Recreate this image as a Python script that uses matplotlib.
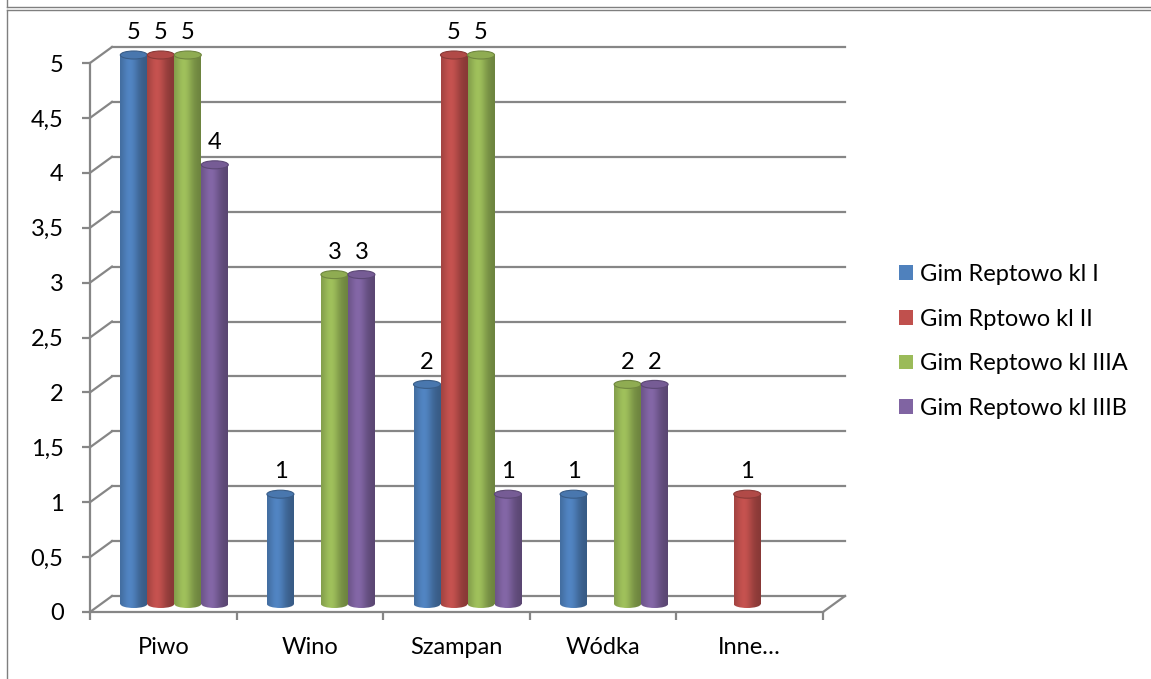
import numpy as np
import matplotlib.pyplot as plt
from matplotlib.patches import Ellipse, Patch, Rectangle
from matplotlib.lines import Line2D
from matplotlib.colors import to_rgb

plt.rcParams['font.family'] = ['Lato', 'DejaVu Sans']

categories = ['Piwo', 'Wino', 'Szampan', 'Wódka', 'Inne…']
series = ['Gim Reptowo kl I', 'Gim Rptowo kl II', 'Gim Reptowo kl IIIA', 'Gim Reptowo kl IIIB']
kl_1 = [5, 1, 2, 1, 0]
kl_2 = [5, 0, 5, 0, 1]
kl_3a = [5, 3, 5, 2, 0]
kl_3b = [4, 3, 1, 2, 0]
values = [kl_1, kl_2, kl_3a, kl_3b]
colors = ['#4F81BD', '#C0504D', '#9BBB59', '#8064A2']
yticks = np.arange(0, 5.01, 0.5)
ytick_labels = [f'{t:g}'.replace('.', ',') for t in yticks]

GRID = '#868686'
FS = 17
W, H = 1151, 679
fig = plt.figure(figsize=(W / 100, H / 100), dpi=100)

# front plane of the 3d box, in pixels
left, right, top, bottom = 90, 823, 63, 612
YMAX = 5.6  # room above the value axis for the tall cylinders and their labels
px_x = (right - left) / len(categories)
px_y = (bottom - top) / 5.0
ax = fig.add_axes([left / W, 1 - bottom / H, (right - left) / W, px_y * YMAX / H])
DX, DY = 22 / px_x, 16 / px_y   # depth of the box in data units
bar_w = 27 / px_x
ell_h = 8 / px_y


def shade(color, n=64):
    # cylinder look: darker edges, slight highlight left of centre
    t = np.linspace(0, 1, n)
    f = 0.78 + 0.28 * np.exp(-((t - 0.38) / 0.32) ** 2) - 0.08 * t
    rgb = np.array(to_rgb(color))
    img = np.clip(rgb[None, :] * f[:, None], 0, 1)
    return img[None, :, :]


def shaded_patch(patch, color, x0, x1, y0, y1, z):
    patch.set_facecolor('none')
    patch.set_edgecolor('none')
    patch.set_zorder(z)
    ax.add_patch(patch)
    im = ax.imshow(shade(color), extent=[x0, x1, y0, y1], aspect='auto',
                   interpolation='bilinear', zorder=z)
    im.set_clip_path(patch)


# back wall, floor and side wall gridlines
for t in yticks:
    ax.plot([-0.5 + DX, 4.5 + DX], [t + DY, t + DY], color=GRID, lw=1.6, clip_on=False, zorder=1)
    ax.plot([-0.5, -0.5 + DX], [t, t + DY], color=GRID, lw=1.6, clip_on=False, zorder=1)
ax.plot([4.5, 4.5 + DX], [0, DY], color=GRID, lw=1.6, clip_on=False, zorder=1)

x = np.arange(len(categories))
for i, (vals, col) in enumerate(zip(values, colors)):
    for j, v in enumerate(vals):
        if v == 0:
            continue
        xc = x[j] + (i - 1.5) * bar_w + DX / 2
        b = DY / 2
        x0, x1 = xc - bar_w / 2, xc + bar_w / 2
        z = 3 + i * 0.1
        shaded_patch(Ellipse((xc, b), bar_w, ell_h), col, x0, x1, b - ell_h, b + ell_h, z)
        shaded_patch(Rectangle((x0, b), bar_w, v), col, x0, x1, b, b + v, z + 0.01)
        rgb = np.array(to_rgb(col))
        ax.add_patch(Ellipse((xc, b + v), bar_w, ell_h, facecolor=rgb * 0.92,
                             edgecolor=rgb * 0.72, lw=0.8, zorder=z + 0.02))
        ax.annotate(str(v), (xc, b + v), xytext=(0, 16), textcoords='offset points',
                    ha='center', va='center', fontsize=FS, zorder=6)

ax.set_xlim(-0.5, 4.5)
ax.set_ylim(0, YMAX)
for s in ['top', 'right']:
    ax.spines[s].set_visible(False)
for s in ['left', 'bottom']:
    ax.spines[s].set_color(GRID)
    ax.spines[s].set_linewidth(1.6)
    ax.spines[s].set_zorder(2)
ax.spines['left'].set_bounds(0, 5)
ax.set_yticks(yticks, ytick_labels)
ax.set_xticks(x, categories)
ax.set_xticks(np.arange(-0.5, 4.6, 1), minor=True)
ax.tick_params(axis='y', length=6, width=1.6, color=GRID, pad=13, labelsize=FS)
ax.tick_params(axis='x', which='major', length=0, pad=18, labelsize=FS)
ax.tick_params(axis='x', which='minor', length=6, width=1.6, color=GRID)
ax.patch.set_visible(False)

handles = [Patch(facecolor=c, edgecolor='none') for c in colors]
fig.legend(handles, series, loc='upper left', bbox_to_anchor=(899 / W, 1 - 264 / H),
           frameon=False, fontsize=FS, labelspacing=1.0, handlelength=0.58,
           handleheight=0.58, handletextpad=0.32, borderpad=0, borderaxespad=0)

# outer chart frame
for y in (7, 10):
    fig.add_artist(Line2D([7 / W, 1], [1 - y / H, 1 - y / H], color='#7f7f7f', lw=1))
fig.add_artist(Line2D([7 / W, 7 / W], [1 - 10 / H, 0], color='#7f7f7f', lw=1))
fig.add_artist(Line2D([7 / W, 7 / W], [1, 1 - 7 / H], color='#7f7f7f', lw=1))

fig.savefig('out.png', dpi=100)
